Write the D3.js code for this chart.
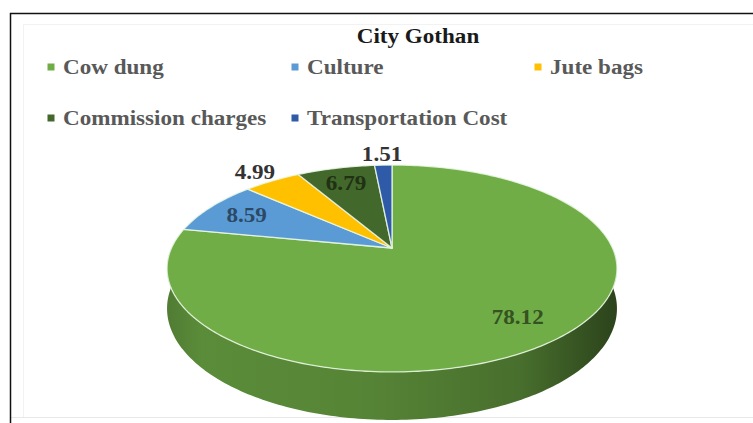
<!DOCTYPE html>
<html>
<head>
<meta charset="utf-8">
<script src="https://cdn.jsdelivr.net/npm/d3@7"></script>
<style>
  html, body { margin: 0; padding: 0; background: #fff; }
  svg { display: block; }
  text { font-family: "Liberation Serif", "Times New Roman", serif; font-weight: bold; }
</style>
</head>
<body>
<div id="chart"></div>
<script>
// chart data
var chartTitle = "City Gothan";
var categories = ["Cow dung", "Culture", "Jute bags", "Commission charges", "Transportation Cost"];
var values = [78.12, 8.59, 4.99, 6.79, 1.51];
var labels = ["78.12", "8.59", "4.99", "6.79", "1.51"];

var W = 753, H = 423;

var color = d3.scaleOrdinal()
    .domain(categories)
    .range(["#70AD47", "#5B9BD5", "#FFC000", "#43682B", "#2E5AA8"]);

// 3d pie geometry (perspective tilt)
var cx = 392, cy = 248, R = 220.5, T = 99.4, p = 0.198, depth = 38.5;
var stretch = 1.1;

function proj(a, r, h) {
    var u = r * Math.sin(a), v = -r * Math.cos(a);
    var s = 1 / (1 - p * v);
    return [cx + R * u * s, cy + T * v * s + (h || 0) * s];
}

function arcPts(a0, a1, h) {
    var n = Math.max(2, Math.ceil((a1 - a0) / (Math.PI / 180)));
    return d3.range(n + 1).map(function(i) { return proj(a0 + (a1 - a0) * i / n, 1, h); });
}

var line = d3.line();

var svg = d3.select("#chart")
    .append("svg")
    .attr("width", W)
    .attr("height", H);

svg.append("rect").attr("width", W).attr("height", H).attr("fill", "#fff");

// frame
svg.append("rect")
    .attr("x", 23.5).attr("y", 24.5)
    .attr("width", W - 23).attr("height", 393)
    .attr("fill", "none").attr("stroke", "#f2f2f2");
svg.append("line").attr("x1", 10).attr("x2", W).attr("y1", 417.5).attr("y2", 417.5)
    .attr("stroke", "#e8e8e8");
svg.append("path")
    .attr("d", "M10.5," + H + "V13.5H" + W)
    .attr("fill", "none").attr("stroke", "#111").attr("stroke-width", 1.5);

// title
svg.append("g")
    .attr("transform", "translate(418,43) scale(" + stretch + ",1)")
    .append("text")
    .attr("text-anchor", "middle")
    .attr("font-size", 21)
    .attr("fill", "#1a1a1a")
    .text(chartTitle);

// legend
var legendX = [47, 291, 534], legendY = [67, 118];
var legend = svg.selectAll(".legend")
    .data(categories)
    .enter().append("g")
    .attr("class", "legend")
    .attr("transform", function(d, i) {
        return "translate(" + legendX[i % 3] + "," + legendY[Math.floor(i / 3)] + ")";
    });
legend.append("rect")
    .attr("x", 0.5).attr("y", -3.5)
    .attr("width", 7).attr("height", 7)
    .attr("fill", function(d) { return color(d); });
legend.append("g")
    .attr("transform", "translate(16,7) scale(" + stretch + ",1)")
    .append("text")
    .attr("font-size", 21)
    .attr("fill", "#595959")
    .text(function(d) { return d; });

// pie
var pie = d3.pie().sort(null).value(function(d) { return d.value; });
var arcs = pie(categories.map(function(c, i) { return {name: c, value: values[i], label: labels[i]}; }));

var defs = svg.append("defs");
arcs.forEach(function(d, i) {
    var base = d3.color(color(d.data.name));
    var g = defs.append("linearGradient")
        .attr("id", "side" + i)
        .attr("gradientUnits", "userSpaceOnUse")
        .attr("x1", cx - R * 1.03).attr("x2", cx + R * 1.03)
        .attr("y1", 0).attr("y2", 0);
    [[0, 0.95], [0.08, 0.6], [0.45, 0.75], [0.78, 1.25], [1, 2.7]].forEach(function(s) {
        g.append("stop").attr("offset", s[0]).attr("stop-color", base.darker(s[1]).formatHex());
    });
});

// side walls (front half only)
var frontA = Math.PI / 2, frontB = 3 * Math.PI / 2;
svg.append("g").selectAll("path")
    .data(arcs.filter(function(d) { return d.endAngle > frontA && d.startAngle < frontB; }))
    .enter().append("path")
    .attr("d", function(d) {
        var a0 = Math.max(d.startAngle, frontA), a1 = Math.min(d.endAngle, frontB);
        var pts = arcPts(a0, a1, 0).concat(arcPts(a0, a1, depth).reverse());
        return line(pts) + "Z";
    })
    .attr("fill", function(d) { return "url(#side" + arcs.indexOf(d) + ")"; });

// top faces
svg.append("g").selectAll("path")
    .data(arcs)
    .enter().append("path")
    .attr("d", function(d) {
        return line([[cx, cy]].concat(arcPts(d.startAngle, d.endAngle, 0))) + "Z";
    })
    .attr("fill", function(d) { return color(d.data.name); })
    .attr("stroke", "rgba(235,248,230,0.85)")
    .attr("stroke-width", 1.3)
    .attr("stroke-linejoin", "round");

// data labels: small slices outside, others inside
svg.append("g").selectAll("g")
    .data(arcs)
    .enter().append("g")
    .attr("transform", function(d) {
        var mid = (d.startAngle + d.endAngle) / 2;
        var outside = d.data.value < 5;
        var pt = proj(mid, outside ? 1.17 : 0.79, 0);
        return "translate(" + pt[0] + "," + pt[1] + ") scale(" + stretch + ",1)";
    })
    .append("text")
    .attr("text-anchor", "middle")
    .attr("dy", "0.35em")
    .attr("font-size", 21)
    .attr("fill", function(d) {
        return d.data.value < 5 ? "#333333" : d3.color(color(d.data.name)).darker(2.1).formatHex();
    })
    .text(function(d) { return d.data.label; });
</script>
</body>
</html>
